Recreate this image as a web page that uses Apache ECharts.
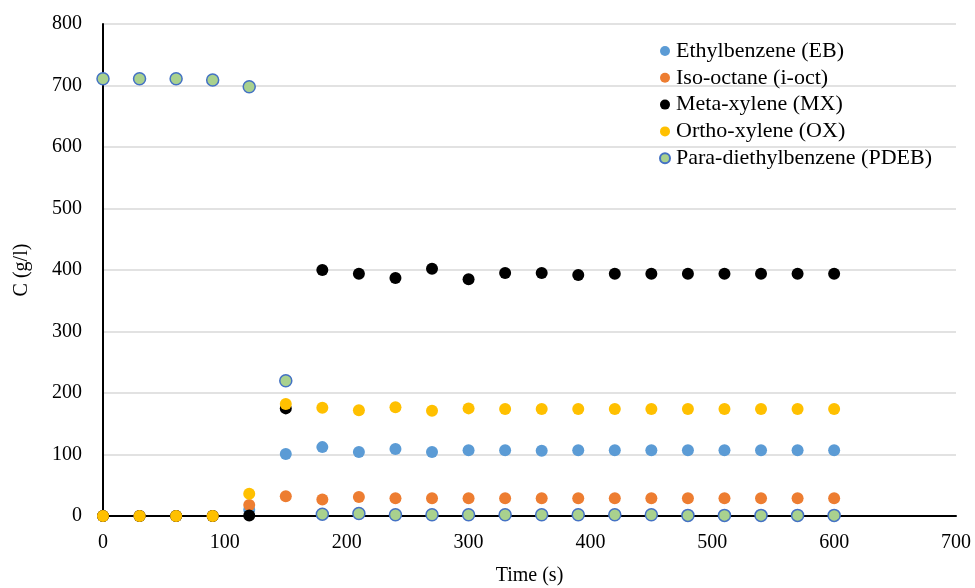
<!DOCTYPE html>
<html><head><meta charset="utf-8">
<script src="https://cdn.jsdelivr.net/npm/echarts@6/dist/echarts.min.js"></script>
<style>html,body{margin:0;padding:0;background:#fff}#c{width:975px;height:588px}</style>
</head><body><div id="c"></div>
<script>
const times = [0,30,60,90,120,150,180,210,240,270,300,330,360,390,420,450,480,510,540,570,600];
const EB   = [0,0,0,0,10,101,112,104,109,104,107,107,106,107,107,107,107,107,107,107,107];
const IOCT = [0,0,0,0,18,32,27,31,29,29,29,29,29,29,29,29,29,29,29,29,29];
const MX   = [0,0,0,0,1,175,400,394,387,402,385,395,395,392,394,394,394,394,394,394,394];
const OX   = [0,0,0,0,36,182,176,172,177,171,175,174,174,174,174,174,174,174,174,174,174];
const PDEB = [711,711,711,709,698,220,3,4,2,2,2,2,2,2,2,2,1,1,1,1,1];
const seriesNames = ['Ethylbenzene (EB)','Iso-octane (i-oct)','Meta-xylene (MX)','Ortho-xylene (OX)','Para-diethylbenzene (PDEB)'];
const xTicks = [0,100,200,300,400,500,600,700];
const yTicks = [0,100,200,300,400,500,600,700,800];

const font = 'Liberation Serif';
const pair = arr => times.map((t,i)=>[t,arr[i]]);
const styles = [
  {color:'#5b9bd5', opacity:1},
  {color:'#ed7d31', opacity:1},
  {color:'#000000', opacity:1},
  {color:'#ffc000', opacity:1},
  {color:'#a9d18e', borderColor:'#4472c4', borderWidth:1.5, opacity:1}
];
const datas = [EB, IOCT, MX, OX, PDEB];
const chart = echarts.init(document.getElementById('c'));
chart.setOption({
  animation:false,
  backgroundColor:'#fff',
  grid:{left:103, right:19, top:24, bottom:72, containLabel:false, outerBoundsMode:'none'},
  legend:{
    orient:'vertical', left:654, top:35, itemGap:4.8, itemWidth:10, itemHeight:10,
    icon:'circle',
    textStyle:{fontFamily:font, fontSize:22, color:'#000', padding:[0,0,0,1]},
    data:seriesNames
  },
  xAxis:{
    type:'value', min:0, max:700, interval:100,
    name:'Time (s)', nameLocation:'middle', nameGap:50,
    nameTextStyle:{fontFamily:font, fontSize:20, color:'#000'},
    axisLine:{show:true, lineStyle:{color:'#000', width:2}},
    axisTick:{show:false},
    splitLine:{show:false},
    axisLabel:{fontFamily:font, fontSize:20, color:'#000', margin:17,
      formatter:v=>xTicks.includes(v)?String(v):''}
  },
  yAxis:{
    type:'value', min:0, max:800, interval:100,
    name:'C (g/l)', nameLocation:'middle', nameGap:71, nameRotate:90,
    nameTextStyle:{fontFamily:font, fontSize:20, color:'#000'},
    axisLine:{show:true, onZero:false, lineStyle:{color:'#000', width:2}},
    axisTick:{show:false},
    splitLine:{show:true, lineStyle:{color:'#d9d9d9', width:1.5}},
    axisLabel:{fontFamily:font, fontSize:20, color:'#000', margin:21,
      formatter:v=>yTicks.includes(v)?String(v):''}
  },
  series: seriesNames.map((n,i)=>({
    name:n, type:'scatter', symbol:'circle', symbolSize:12,
    itemStyle:styles[i], data:pair(datas[i]), z:2+i
  }))
});
</script></body></html>
